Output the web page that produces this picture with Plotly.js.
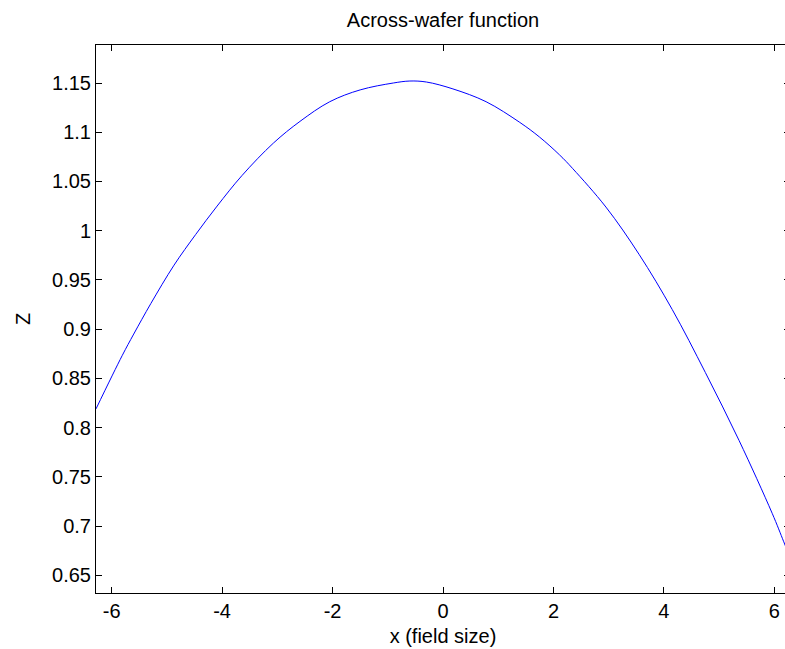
<!DOCTYPE html>
<html>
<head>
<meta charset="utf-8">
<script src="https://cdn.plot.ly/plotly-3.0.1.min.js"></script>
<style>
  html, body { margin: 0; padding: 0; background: #fff; overflow: hidden; width: 785px; height: 649px; }
  #chart { width: 800px; height: 649px; }
</style>
</head>
<body>
<div id="chart"></div>
<script>
// Data
const xValues = [-6.283, -5.81, -5.60, -5.29, -4.87, -4.48, -4.09, -3.64, -3.07, -2.59, -2.05, -1.50, -0.90, -0.60, -0.30, 0.18, 0.78, 1.39, 1.75, 2.11, 2.35, 2.95, 3.55, 4.15, 4.75, 5.36, 5.96, 6.17, 6.283];
const zValues = [0.819, 0.873, 0.895, 0.926, 0.965, 0.996, 1.025, 1.056, 1.089, 1.111, 1.131, 1.143, 1.150, 1.152, 1.151, 1.144, 1.131, 1.110, 1.095, 1.077, 1.063, 1.024, 0.976, 0.920, 0.856, 0.787, 0.713, 0.684, 0.668];

const xTickVals = [-6, -4, -2, 0, 2, 4, 6];
const xTickText = ["-6", "-4", "-2", "0", "2", "4", "6"];
const yTickVals = [0.65, 0.7, 0.75, 0.8, 0.85, 0.9, 0.95, 1, 1.05, 1.1, 1.15];
const yTickText = ["0.65", "0.7", "0.75", "0.8", "0.85", "0.9", "0.95", "1", "1.05", "1.1", "1.15"];

const titleText = "Across-wafer function";
const xTitle = "x (field size)";
const yTitle = "Z";

const FONT = "Liberation Sans, Arial, Helvetica, sans-serif";

const trace = {
  x: xValues,
  y: zValues,
  type: "scatter",
  mode: "lines",
  line: { color: "#0000ff", width: 1, shape: "spline", smoothing: 1 },
  hoverinfo: "skip"
};

const axisCommon = {
  showline: true,
  linecolor: "#000",
  linewidth: 1,
  mirror: "ticks",
  ticks: "inside",
  ticklen: 6,
  tickcolor: "#000",
  tickwidth: 1,
  showgrid: false,
  zeroline: false,
  tickfont: { family: FONT, size: 20, color: "#000" }
};

const layout = {
  width: 800,
  height: 649,
  margin: { l: 96, r: 10, t: 45, b: 56 },
  paper_bgcolor: "#fff",
  plot_bgcolor: "#fff",
  showlegend: false,
  title: {
    text: titleText,
    font: { family: FONT, size: 20, color: "#000" },
    x: 0.5, xref: "paper", xanchor: "center",
    y: 1 - 20 / 649, yref: "container", yanchor: "middle"
  },
  xaxis: Object.assign({}, axisCommon, {
    range: [-6.283, 6.283],
    tickmode: "array",
    tickvals: xTickVals,
    ticktext: xTickText,
    title: { text: xTitle, font: { family: FONT, size: 20, color: "#000" }, standoff: 7 }
  }),
  yaxis: Object.assign({}, axisCommon, {
    range: [0.632, 1.1886],
    tickmode: "array",
    tickvals: yTickVals,
    ticktext: yTickText,
    title: { text: yTitle, font: { family: FONT, size: 20, color: "#000" }, standoff: 16 }
  })
};

Plotly.newPlot("chart", [trace], layout, { staticPlot: true, displayModeBar: false });
</script>
</body>
</html>
